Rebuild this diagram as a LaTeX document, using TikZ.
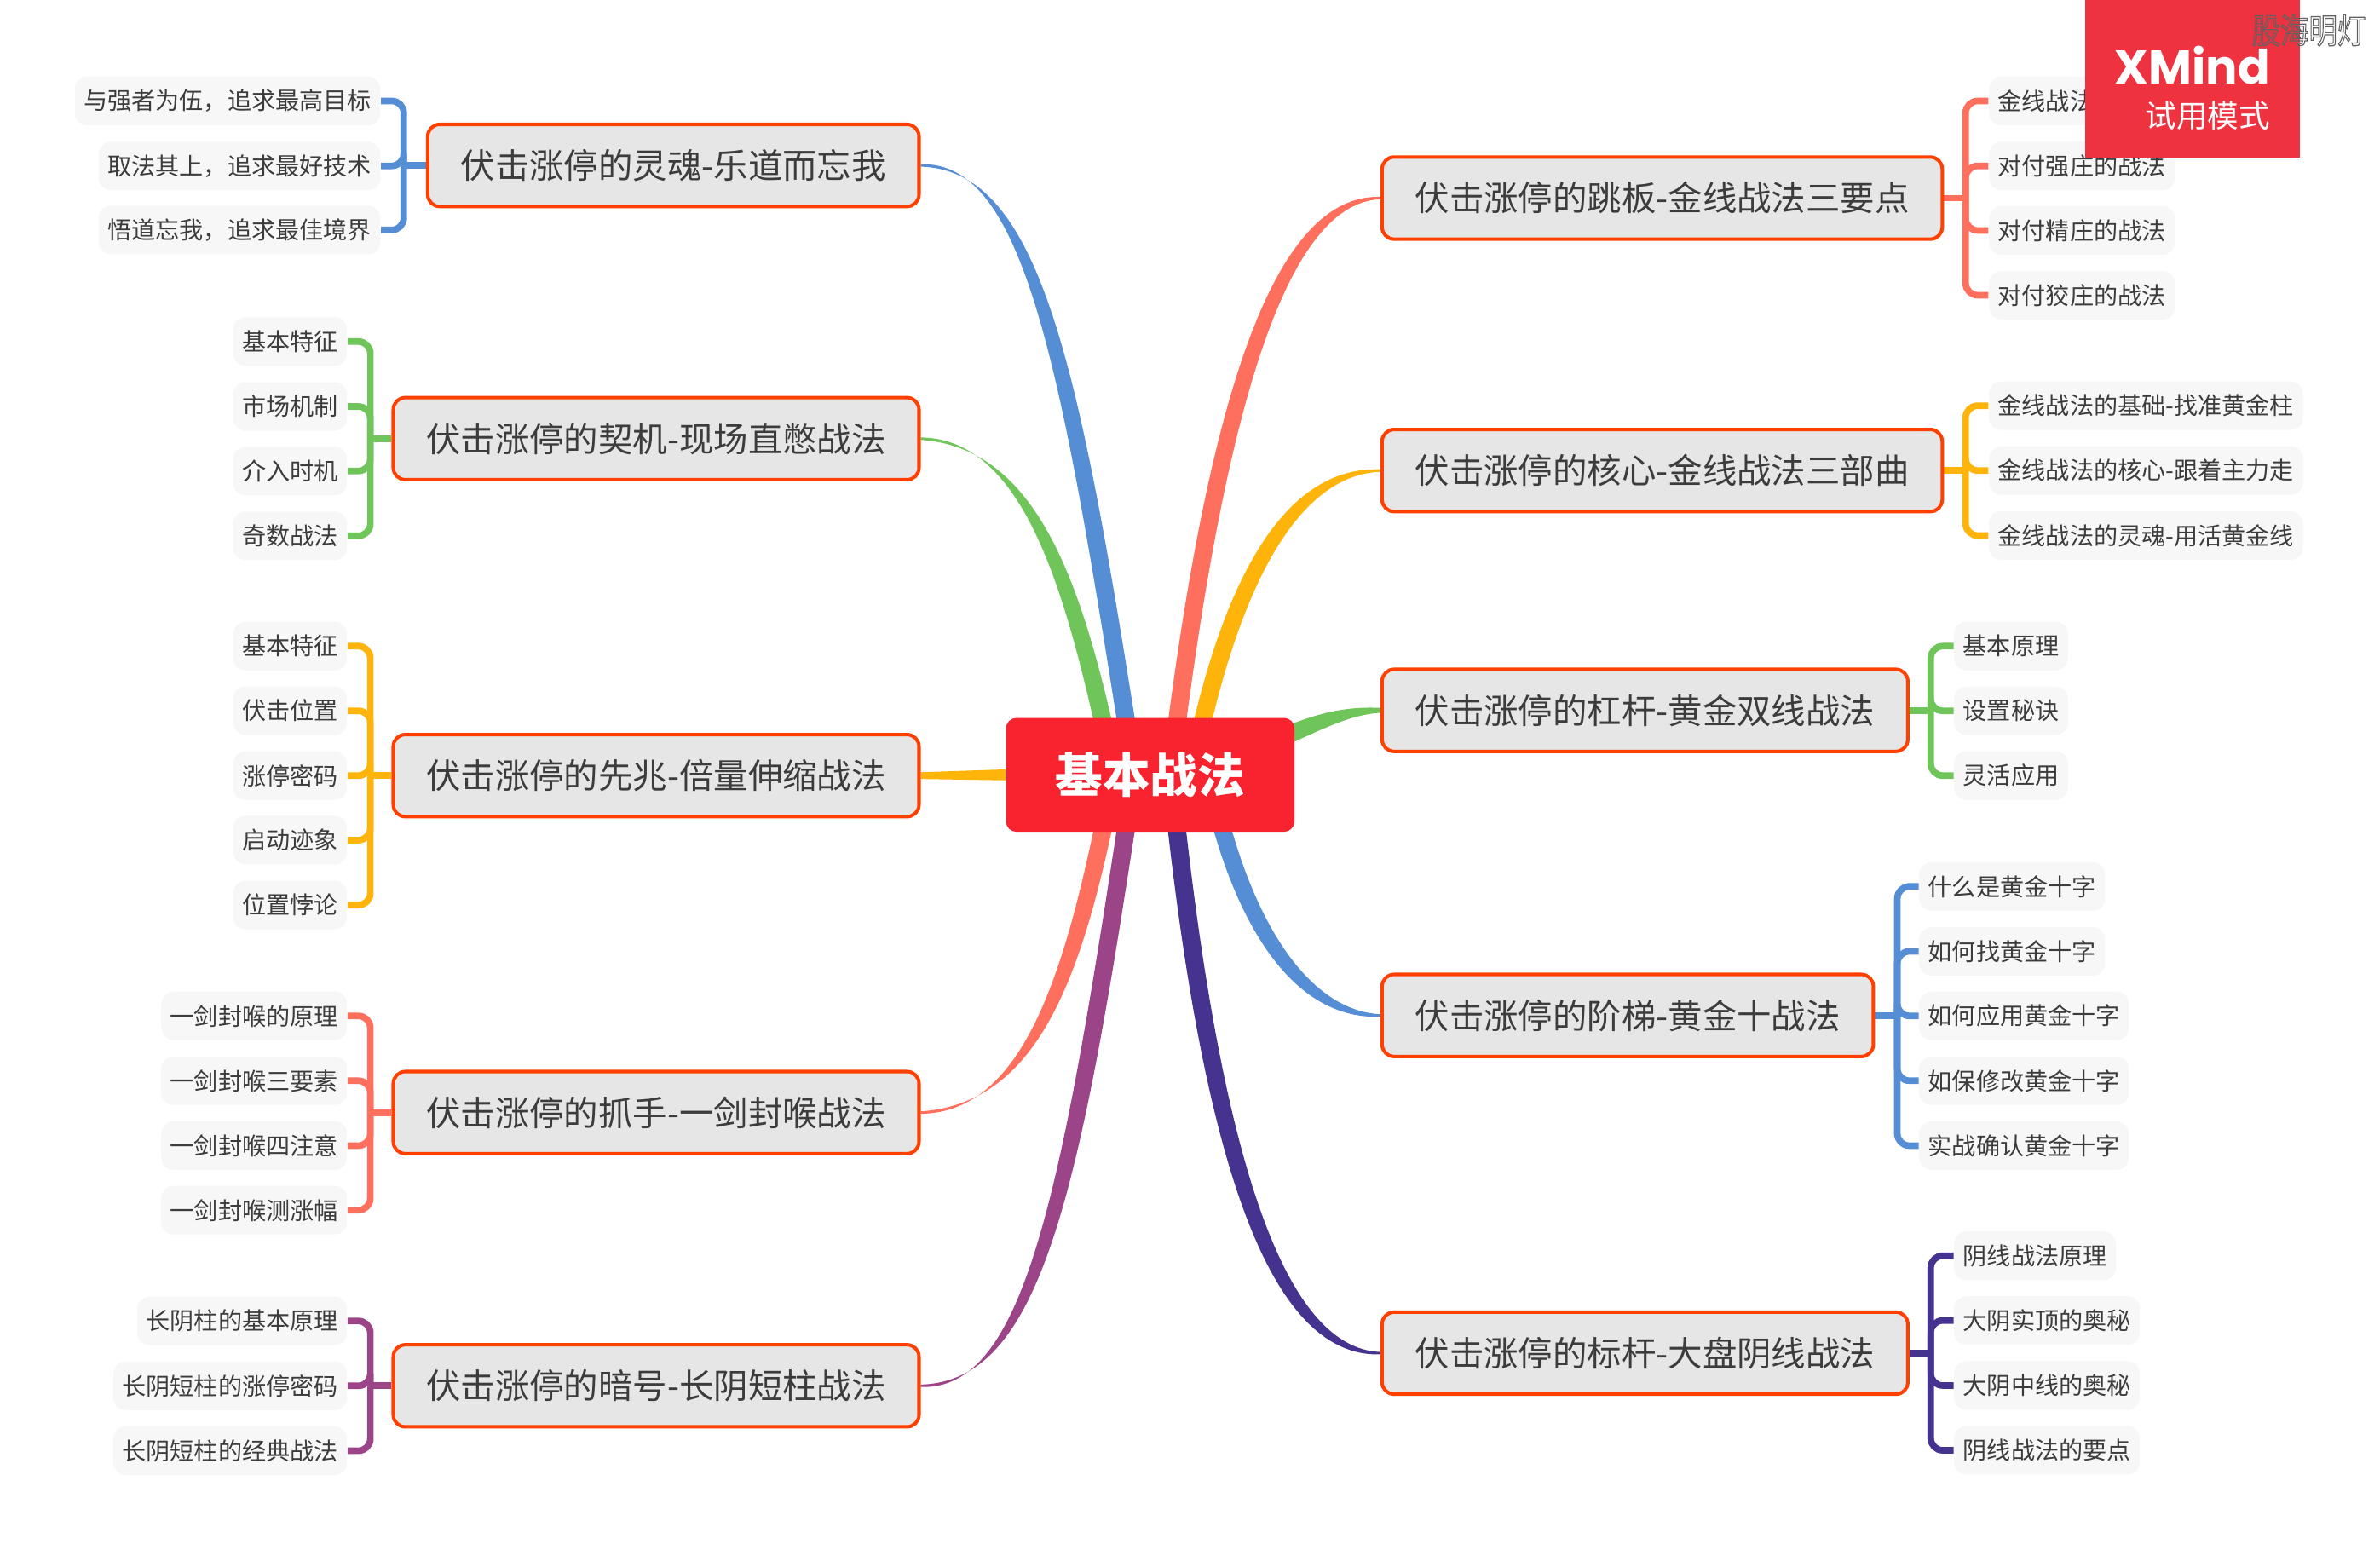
\documentclass[tikz,border=0pt]{standalone}
\usepackage{fontspec}
\setmainfont{Noto Sans CJK SC}
\newfontfamily\xmfont{Poppins}
\usetikzlibrary{calc,backgrounds}
\definecolor{cblue}{HTML}{558ED5}
\definecolor{cgreen}{HTML}{6FC45A}
\definecolor{cyellow}{HTML}{FFB40C}
\definecolor{ccoral}{HTML}{FF6F5E}
\definecolor{cpurple}{HTML}{9B4488}
\definecolor{cnavy}{HTML}{46338F}
\definecolor{cborder}{HTML}{FF4000}
\definecolor{cmain}{HTML}{E6E6E6}
\definecolor{cleaf}{HTML}{F7F7F7}
\definecolor{ctext}{HTML}{3C3C3C}
\definecolor{ccenter}{HTML}{F9232F}
\definecolor{cxm}{HTML}{EE3240}
\tikzset{
 maintopic/.style={draw=cborder,line width=1.15pt,fill=cmain,rounded corners=4pt,minimum height=27.4pt,inner xsep=11pt,inner ysep=0pt,text=ctext,font=\fontsize{11.5}{13}\selectfont},
 leaftopic/.style={fill=cleaf,rounded corners=4pt,minimum height=16.2pt,inner xsep=3pt,inner ysep=0pt,text=ctext,font=\fontsize{8}{10}\selectfont},
 centertopic/.style={fill=ccenter,rounded corners=3.5pt,minimum width=96.3pt,minimum height=38pt,inner sep=0pt,text=white,font=\fontsize{15.8}{18}\selectfont\bfseries},
 branch/.style={line width=2.2pt,rounded corners=4pt},
}
% colour, P0, P1, P2, P3, start offset x, start offset y, end offset y, extra y offset at P2
\newcommand{\taper}[9]{%
 \fill[#1] ($(#2)+(#6,#7)$) .. controls ($(#3)+(#6,#7)$) and ($(#4)+({.9*(#6)},{.9*(#7)+(#9)})$) .. ($(#5)+(0,#8)$)
  -- ($(#5)+(0,{-1*(#8)})$) .. controls ($(#4)+({-.9*(#6)},{-.9*(#7)-(#9)})$) and ($(#3)+({-1*(#6)},{-1*(#7)})$) .. ($(#2)+({-1*(#6)},{-1*(#7)})$) -- cycle;}
% colour, main anchor, x of spine, leaves listed
\newcommand{\fork}[4]{%
 \coordinate (j) at (#3,0); \coordinate (jj) at (j |- #2);
 \draw[branch,#1] (#2) -- (jj);
 \foreach \l in {#4} {\draw[branch,#1] (jj) |- (\l);}}
\begin{document}
\begin{tikzpicture}[x=0.017813cm,y=-0.017813cm]
\useasboundingbox (0,0) rectangle (1568,1021);
\node[centertopic] (c) at (757.8,510.5) {基本战法};
% left main topics
\node[maintopic,anchor=east] (L1) at (606.6,109) {伏击涨停的灵魂-乐道而忘我};
\node[maintopic,anchor=east] (L2) at (606.6,289) {伏击涨停的契机-现场直憋战法};
\node[maintopic,anchor=east] (L3) at (606.6,511) {伏击涨停的先兆-倍量伸缩战法};
\node[maintopic,anchor=east] (L4) at (606.6,733) {伏击涨停的抓手-一剑封喉战法};
\node[maintopic,anchor=east] (L5) at (606.6,913) {伏击涨停的暗号-长阴短柱战法};
% right main topics
\node[maintopic,anchor=west] (R1) at (909.4,130.5) {伏击涨停的跳板-金线战法三要点};
\node[maintopic,anchor=west] (R2) at (909.4,310) {伏击涨停的核心-金线战法三部曲};
\node[maintopic,anchor=west] (R3) at (909.4,468) {伏击涨停的杠杆-黄金双线战法};
\node[maintopic,anchor=west] (R4) at (909.4,669) {伏击涨停的阶梯-黄金十战法};
\node[maintopic,anchor=west] (R5) at (909.4,891.5) {伏击涨停的标杆-大盘阴线战法};
% left leaves
\node[leaftopic,anchor=east] (a1) at (251,66.5) {与强者为伍，追求最高目标};
\node[leaftopic,anchor=east] (a2) at (251,109.3) {取法其上，追求最好技术};
\node[leaftopic,anchor=east] (a3) at (251,151.5) {悟道忘我，追求最佳境界};
\node[leaftopic,anchor=east] (b1) at (229,225) {基本特征};
\node[leaftopic,anchor=east] (b2) at (229,267.8) {市场机制};
\node[leaftopic,anchor=east] (b3) at (229,310.3) {介入时机};
\node[leaftopic,anchor=east] (b4) at (229,353) {奇数战法};
\node[leaftopic,anchor=east] (d1) at (229,425.7) {基本特征};
\node[leaftopic,anchor=east] (d2) at (229,468.3) {伏击位置};
\node[leaftopic,anchor=east] (d3) at (229,511) {涨停密码};
\node[leaftopic,anchor=east] (d4) at (229,553.5) {启动迹象};
\node[leaftopic,anchor=east] (d5) at (229,596.3) {位置悖论};
\node[leaftopic,anchor=east] (e1) at (229,669.3) {一剑封喉的原理};
\node[leaftopic,anchor=east] (e2) at (229,712) {一剑封喉三要素};
\node[leaftopic,anchor=east] (e3) at (229,754.8) {一剑封喉四注意};
\node[leaftopic,anchor=east] (e4) at (229,797.3) {一剑封喉测涨幅};
\node[leaftopic,anchor=east] (f1) at (229,870.3) {长阴柱的基本原理};
\node[leaftopic,anchor=east] (f2) at (229,913) {长阴短柱的涨停密码};
\node[leaftopic,anchor=east] (f3) at (229,955.8) {长阴短柱的经典战法};
% right leaves
\node[leaftopic,anchor=west] (g1) at (1310,66.5) {金线战法\phantom{的战术法}};
\node[leaftopic,anchor=west] (g2) at (1310,109.3) {对付强庄的战法};
\node[leaftopic,anchor=west] (g3) at (1310,151.8) {对付精庄的战法};
\node[leaftopic,anchor=west] (g4) at (1310,194.5) {对付狡庄的战法};
\node[leaftopic,anchor=west] (h1) at (1310,267.3) {金线战法的基础-找准黄金柱};
\node[leaftopic,anchor=west] (h2) at (1310,310) {金线战法的核心-跟着主力走};
\node[leaftopic,anchor=west] (h3) at (1310,352.8) {金线战法的灵魂-用活黄金线};
\node[leaftopic,anchor=west] (i1) at (1287,425.7) {基本原理};
\node[leaftopic,anchor=west] (i2) at (1287,468.3) {设置秘诀};
\node[leaftopic,anchor=west] (i3) at (1287,511) {灵活应用};
\node[leaftopic,anchor=west] (k1) at (1264,584) {什么是黄金十字};
\node[leaftopic,anchor=west] (k2) at (1264,626.8) {如何找黄金十字};
\node[leaftopic,anchor=west] (k3) at (1264,669.3) {如何应用黄金十字};
\node[leaftopic,anchor=west] (k4) at (1264,712) {如保修改黄金十字};
\node[leaftopic,anchor=west] (k5) at (1264,754.8) {实战确认黄金十字};
\node[leaftopic,anchor=west] (m1) at (1287,827.3) {阴线战法原理};
\node[leaftopic,anchor=west] (m2) at (1287,870) {大阴实顶的奥秘};
\node[leaftopic,anchor=west] (m3) at (1287,912.8) {大阴中线的奥秘};
\node[leaftopic,anchor=west] (m4) at (1287,955.5) {阴线战法的要点};
\begin{pgfonlayer}{background}
 \coordinate (s1) at (745,495); \coordinate (s2) at (731,495);
 \coordinate (s4) at (731,525);
 \coordinate (s5) at (745,525); \coordinate (t1) at (773,495);
 \coordinate (t2) at (789,490); \coordinate (t3) at (835,490);
 \coordinate (t4) at (801,530); \coordinate (t5) at (773,525);
 \taper{cblue}{s1}{705,240}{680,109}{L1.east}{-6}{0}{-.8}{-3}
 \taper{cgreen}{s2}{708,390}{680,292}{L2.east}{-6}{0}{-.8}{-3}
 \fill[cyellow] ($(c.west)+(0,-3.6)$) -- ($(L3.east)+(0,-2.2)$) -- ($(L3.east)+(0,2.2)$) -- ($(c.west)+(0,3.6)$) -- cycle;
 \taper{ccoral}{s4}{708,640}{680,730}{L4.east}{-6}{0}{.8}{3}
 \taper{cpurple}{s5}{705,790}{680,913}{L5.east}{-6}{0}{.8}{3}
 \taper{ccoral}{t1}{800,280}{840,130.5}{R1.west}{-6}{0}{-.8}{-3}
 \taper{cyellow}{t2}{812,385}{850,310}{R2.west}{-6}{0}{-.8}{-3}
 \taper{cgreen}{t3}{865,477}{885,468}{R3.west}{-2.5}{-5.5}{-1.6}{2}
 \taper{cblue}{t4}{822,615}{860,669}{R4.west}{-6}{0}{.8}{3}
 \taper{cnavy}{t5}{798,760}{840,891.5}{R5.west}{-6}{0}{.8}{3}
 \fork{cblue}{L1.west}{266}{a1.east,a2.east,a3.east}
 \fork{cgreen}{L2.west}{244}{b1.east,b2.east,b3.east,b4.east}
 \fork{cyellow}{L3.west}{244}{d1.east,d2.east,d3.east,d4.east,d5.east}
 \fork{ccoral}{L4.west}{244}{e1.east,e2.east,e3.east,e4.east}
 \fork{cpurple}{L5.west}{244}{f1.east,f2.east,f3.east}
 \fork{ccoral}{R1.east}{1295}{g1.west,g2.west,g3.west,g4.west}
 \fork{cyellow}{R2.east}{1295}{h1.west,h2.west,h3.west}
 \fork{cgreen}{R3.east}{1272}{i1.west,i2.west,i3.west}
 \fork{cblue}{R4.east}{1250}{k1.west,k2.west,k3.west,k4.west,k5.west}
 \fork{cnavy}{R5.east}{1272}{m1.west,m2.west,m3.west,m4.west}
\end{pgfonlayer}
% trial-mode stamp
\fill[cxm] (1374,0) rectangle (1515,104);
\node[anchor=east,text=white,inner sep=0pt,font=\xmfont\fontsize{15.8}{20}\selectfont\bfseries] (xm) at (1496,43) {XMind};
\node[anchor=east,text=white,inner sep=0pt,font=\fontsize{10.4}{12}\selectfont] (tr) at (1496,76) {试用模式};
\node[anchor=east,inner sep=0pt,text=black!62,font=\fontsize{9.5}{11}\selectfont] (wm) at (1559,20) {\scalebox{1}[1.2]{\special{pdf:code q 1 Tr 0.3 w}股海明灯\special{pdf:code Q}}};
\end{tikzpicture}
\end{document}
